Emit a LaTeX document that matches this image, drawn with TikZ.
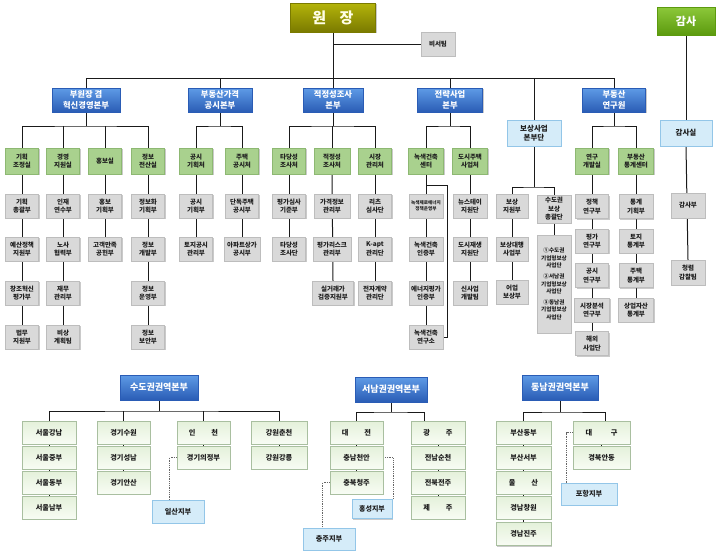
\documentclass[tikz,border=0pt]{standalone}
\usepackage{fontspec}
\setmainfont{Noto Sans CJK KR}
\usetikzlibrary{shadows,backgrounds,calc}
\definecolor{txt}{HTML}{1E1E1E}
\definecolor{olivetop}{HTML}{B4B40A}
\definecolor{olivebot}{HTML}{7A7A00}
\definecolor{gatop}{HTML}{8CC83A}
\definecolor{gabot}{HTML}{5C9A0E}
\definecolor{bltop}{HTML}{5E9BE6}
\definecolor{blbot}{HTML}{2A5CB5}
\definecolor{gfill}{HTML}{A9D18E}
\definecolor{gdraw}{HTML}{8DB872}
\definecolor{greyf}{HTML}{D9D9D9}
\definecolor{greyd}{HTML}{BDBDBD}
\definecolor{lbfill}{HTML}{D5ECF9}
\definecolor{lbdraw}{HTML}{93C6E8}
\definecolor{rgtop}{HTML}{E4F1DA}
\definecolor{rgbot}{HTML}{F8FCF4}
\definecolor{rgdraw}{HTML}{A9BFA0}
\definecolor{lnc}{HTML}{1A1A1A}
\tikzset{
  shad/.style={drop shadow={shadow xshift=1.2pt,shadow yshift=-1.2pt,opacity=0.35,fill=black!60}},
  box/.style={rectangle, align=center, inner sep=0.5pt, text=txt,
    font=\bfseries\fontsize{6.5}{8.5}\selectfont},
  greenbox/.style={box, shad, fill=gfill, draw=gdraw, line width=0.3pt,
    minimum width=33pt, minimum height=26pt},
  greybox/.style={box, shad, fill=greyf, draw=greyd, line width=0.3pt,
    minimum width=33pt, minimum height=24pt},
  bluebox/.style={box, shad, top color=bltop, bottom color=blbot, draw=blbot, line width=0.3pt,
    text=white, font=\bfseries\fontsize{8.3}{10.5}\selectfont, minimum height=24pt},
  lbbox/.style={box, shad, fill=lbfill, draw=lbdraw, line width=0.6pt,
    font=\bfseries\fontsize{7.5}{9.5}\selectfont, minimum height=26pt},
  rgbox/.style={box, shad, top color=rgtop, bottom color=rgbot, draw=rgdraw, line width=0.3pt,
    font=\bfseries\fontsize{7.2}{9}\selectfont, minimum height=23pt},
  rhead/.style={bluebox, font=\bfseries\fontsize{9}{11}\selectfont, minimum height=25pt},
  conn/.style={draw=lnc, line width=1pt},
  dotc/.style={draw=black!60, line width=0.8pt, densely dotted},
}
\begin{document}
\begin{tikzpicture}[x=1pt,y=-1pt]
\useasboundingbox (0,0) rectangle (720,552);

% ---------- top ----------
\node[box, shad, top color=olivetop, bottom color=olivebot, draw=olivebot, text=white!90!yellow,
  font=\bfseries\fontsize{15}{15}\selectfont, minimum width=85pt, minimum height=29pt] (won) at (333,17.5) {원\hspace{0.9em}장};
\node[box, shad, top color=gatop, bottom color=gabot, draw=gabot, text=white,
  font=\bfseries\fontsize{11}{11}\selectfont, minimum width=58pt, minimum height=28pt] (gamsa) at (686,21) {감사};
\node[greybox, minimum width=34pt, minimum height=24pt] (biseo) at (438,44) {비서팀};

% ---------- level 1 ----------
\node[bluebox, minimum width=68pt] (b1) at (86,100) {부원장 겸\\혁신경영본부};
\node[bluebox, minimum width=64pt] (b2) at (220,100) {부동산가격\\공시본부};
\node[bluebox, minimum width=60pt] (b3) at (333,100) {적정성조사\\본부};
\node[bluebox, minimum width=65pt] (b4) at (450,100) {전략사업\\본부};
\node[bluebox, minimum width=63pt] (b5) at (614,100) {부동산\\연구원};
\node[lbbox, minimum width=54pt] (bosang) at (534,133) {보상사업\\본부단};
\node[lbbox, minimum width=52pt] (gamsasil) at (686,133) {감사실};

% ---------- level 2 ----------
\node[greenbox] (g1) at (22,161) {기획\\조정실};
\node[greenbox] (g2) at (63,161) {경영\\지원실};
\node[greenbox] (g3) at (105,161) {홍보실};
\node[greenbox] (g4) at (148,161) {정보\\전산실};
\node[greenbox] (g5) at (196,161) {공시\\기획처};
\node[greenbox] (g6) at (242,161) {주택\\공시처};
\node[greenbox] (g7) at (289,161) {타당성\\조사처};
\node[greenbox, minimum width=36pt] (g8) at (332,161) {적정성\\조사처};
\node[greenbox] (g9) at (375,161) {시장\\관리처};
\node[greenbox, minimum width=35pt] (g10) at (426,161) {녹색건축\\센터};
\node[greenbox, minimum width=35pt] (g11) at (470,161) {도시주택\\사업처};
\node[greenbox] (g12) at (592,161) {연구\\개발실};
\node[greenbox, minimum width=35pt] (g13) at (636,161) {부동산\\통계센터};

% ---------- level 3 ----------
\node[greybox] (c1a) at (22,206) {기획\\총괄부};
\node[greybox] (c1b) at (22,249) {예산정책\\지원부};
\node[greybox] (c1c) at (22,293) {창조혁신\\평가부};
\node[greybox] (c1d) at (22,337) {법무\\지원부};
\node[greybox] (c2a) at (63,206) {인재\\연수부};
\node[greybox] (c2b) at (63,249) {노사\\협력부};
\node[greybox] (c2c) at (63,293) {재무\\관리부};
\node[greybox] (c2d) at (63,337) {비상\\계획팀};
\node[greybox] (c3a) at (105,206) {홍보\\기획부};
\node[greybox] (c3b) at (105,249) {고객만족\\공헌부};
\node[greybox] (c4a) at (148,206) {정보화\\기획부};
\node[greybox] (c4b) at (148,249) {정보\\개발부};
\node[greybox] (c4c) at (148,293) {정보\\운영부};
\node[greybox] (c4d) at (148,337) {정보\\보안부};
\node[greybox] (c5a) at (196,206) {공시\\기획부};
\node[greybox] (c5b) at (196,249) {토지공시\\관리부};
\node[greybox] (c6a) at (242,206) {단독주택\\공시부};
\node[greybox, minimum width=36pt] (c6b) at (242,249) {아파트상가\\공시부};
\node[greybox] (c7a) at (289,206) {평가심사\\기준부};
\node[greybox] (c7b) at (289,249) {타당성\\조사단};
\node[greybox, minimum width=36pt] (c8a) at (332,206) {가격정보\\관리부};
\node[greybox, minimum width=38pt] (c8b) at (332,249) {평가리스크\\관리부};
\node[greybox, minimum width=41pt] (c8c) at (333,293) {실거래가\\검증지원부};
\node[greybox] (c9a) at (375,206) {리츠\\심사단};
\node[greybox] (c9b) at (375,249) {K-apt\\관리단};
\node[greybox] (c9c) at (375,293) {전자계약\\관리단};
\node[greybox, minimum width=34pt, font=\bfseries\fontsize{4.6}{6.5}\selectfont] (c10a) at (426,206) {녹색제로에너지\\정책운영부};
\node[greybox, minimum width=34pt] (c10b) at (426,249) {녹색건축\\인증부};
\node[greybox, minimum width=34pt] (c10c) at (426,293) {에너지평가\\인증부};
\node[greybox, minimum width=34pt] (c10d) at (426,337) {녹색건축\\연구소};
\node[greybox, minimum width=34pt] (c11a) at (470,206) {뉴스테이\\지원단};
\node[greybox, minimum width=34pt] (c11b) at (470,249) {도시재생\\지원단};
\node[greybox, minimum width=34pt] (c11c) at (470,293) {신사업\\개발팀};
\node[greybox, minimum width=32pt] (c12a) at (512,206) {보상\\지원부};
\node[greybox, minimum width=32pt] (c12b) at (512,249) {보상대행\\사업부};
\node[greybox, minimum width=32pt] (c12c) at (512,292) {어업\\보상부};
\node[greybox, minimum width=34pt, minimum height=28pt] (c13a) at (554,209) {수도권\\보상\\총괄단};
\node[greybox, minimum width=34pt, minimum height=98pt, font=\bfseries\fontsize{5.6}{7.6}\selectfont] (c13b) at (554,284)
  {①수도권\\기업형보상\\사업단\\[3pt]②서남권\\기업형보상\\사업단\\[3pt]③동남권\\기업형보상\\사업단};
\node[greybox] (c14a) at (592,206.5) {정책\\연구부};
\node[greybox] (c14b) at (592,241) {평가\\연구부};
\node[greybox] (c14c) at (592,275.5) {공시\\연구부};
\node[greybox, minimum width=35pt] (c14d) at (592,310) {시장분석\\연구부};
\node[greybox] (c14e) at (592,343.5) {해외\\사업단};
\node[greybox, minimum width=34pt] (c15a) at (636,206.5) {통계\\기획부};
\node[greybox, minimum width=34pt] (c15b) at (636,241) {토지\\통계부};
\node[greybox, minimum width=34pt] (c15c) at (636,275.5) {주택\\통계부};
\node[greybox, minimum width=35pt] (c15d) at (636,310) {상업자산\\통계부};
\node[greybox, minimum width=34pt, minimum height=25pt] (c16a) at (688,205.5) {감사부};
\node[greybox, minimum width=34pt, minimum height=25pt] (c16b) at (688,272.5) {청렴\\감찰팀};

% ---------- regional ----------
\node[rhead, minimum width=78pt] (h1) at (159,387.5) {수도권권역본부};
\node[rhead, minimum width=72pt] (h2) at (391,389.5) {서남권권역본부};
\node[rhead, minimum width=76pt] (h3) at (560,387.5) {동남권권역본부};

\node[rgbox, minimum width=54pt] (sa1) at (49,432.5) {서울강남};
\node[rgbox, minimum width=54pt] (sa2) at (49,457.5) {서울중부};
\node[rgbox, minimum width=54pt] (sa3) at (49,482.5) {서울동부};
\node[rgbox, minimum width=54pt] (sa4) at (49,507.5) {서울남부};
\node[rgbox, minimum width=53pt] (sb1) at (123.5,432.5) {경기수원};
\node[rgbox, minimum width=53pt] (sb2) at (123.5,457.5) {경기성남};
\node[rgbox, minimum width=53pt] (sb3) at (123.5,482.5) {경기안산};
\node[rgbox, minimum width=53pt] (sc1) at (203.5,432.5) {인\hspace{2.2em}천};
\node[rgbox, minimum width=53pt] (sc2) at (203.5,457.5) {경기의정부};
\node[rgbox, minimum width=56pt] (sd1) at (279,432.5) {강원춘천};
\node[rgbox, minimum width=56pt] (sd2) at (279,457.5) {강원강릉};
\node[lbbox, minimum width=52pt, minimum height=23pt, line width=0.4pt, font=\bfseries\fontsize{7.2}{9}\selectfont] (ilsan) at (178,511.5) {일산지부};

\node[rgbox, minimum width=53pt] (se1) at (356.5,432.5) {대\hspace{2.2em}전};
\node[rgbox, minimum width=53pt] (se2) at (356.5,457.5) {충남천안};
\node[rgbox, minimum width=53pt] (se3) at (356.5,482.5) {충북청주};
\node[rgbox, minimum width=54pt] (sf1) at (438,432.5) {광\hspace{2.2em}주};
\node[rgbox, minimum width=54pt] (sf2) at (438,457.5) {전남순천};
\node[rgbox, minimum width=54pt] (sf3) at (438,482.5) {전북전주};
\node[rgbox, minimum width=54pt] (sf4) at (438,507.5) {제\hspace{2.2em}주};
\node[lbbox, minimum width=40pt, minimum height=19pt, line width=0.4pt, font=\bfseries\fontsize{7}{9}\selectfont] (hongseong) at (372,509) {홍성지부};
\node[lbbox, minimum width=52pt, minimum height=22pt, line width=0.4pt, font=\bfseries\fontsize{7.2}{9}\selectfont] (chungju) at (329,539) {충주지부};

\node[rgbox, minimum width=55pt] (sg1) at (523.5,432.5) {부산동부};
\node[rgbox, minimum width=55pt] (sg2) at (523.5,457.5) {부산서부};
\node[rgbox, minimum width=55pt] (sg3) at (523.5,482.5) {울\hspace{2.2em}산};
\node[rgbox, minimum width=55pt] (sg4) at (523.5,507.5) {경남창원};
\node[rgbox, minimum width=55pt] (sg5) at (523.5,534) {경남진주};
\node[rgbox, minimum width=57pt] (sh1) at (601.5,432.5) {대\hspace{2.6em}구};
\node[rgbox, minimum width=57pt] (sh2) at (601.5,457.5) {경북안동};
\node[lbbox, minimum width=56pt, minimum height=22pt, line width=0.4pt, font=\bfseries\fontsize{7.2}{9}\selectfont] (pohang) at (589,494) {포항지부};

% ---------- connectors ----------
\begin{pgfonlayer}{background}
\coordinate (busL) at (86,78);
\coordinate (busR) at (614,78);
\draw[conn] (busL) -- (busR);
\draw[conn] (won.south) -- (b3.north);
\draw[conn] (won.south |- biseo.west) -- (biseo.west);
\draw[conn] (b1.north) -- (b1.north |- busL);
\draw[conn] (b2.north) -- (b2.north |- busL);
\draw[conn] (b4.north) -- (b4.north |- busL);
\draw[conn] (b5.north) -- (b5.north |- busL);
\draw[conn] (bosang.north) -- (bosang.north |- busL);
\draw[conn] (gamsa.south) -- (gamsasil.north);
\draw[conn] (gamsasil.south) -- (c16b.north);

% sub buses
\coordinate (s1) at (86,126);
\draw[conn] (b1.south) -- (s1);
\draw[conn] (g1.north) |- (s1) -| (g4.north);
\draw[conn] (g2.north) -- (g2.north |- s1);
\draw[conn] (g3.north) -- (g3.north |- s1);
\coordinate (s2) at (220,126);
\draw[conn] (b2.south) -- (s2);
\draw[conn] (g5.north) |- (s2) -| (g6.north);
\coordinate (s3) at (333,126);
\draw[conn] (b3.south) -- (s3);
\draw[conn] (g7.north) |- (s3) -| (g9.north);
\draw[conn] (g8.north) -- (g8.north |- s3);
\coordinate (s4) at (450,126);
\draw[conn] (b4.south) -- (s4);
\draw[conn] (g10.north) |- (s4) -| (g11.north);
\coordinate (s5) at (614,126);
\draw[conn] (b5.south) -- (s5);
\draw[conn] (g12.north) |- (s5) -| (g13.north);
\coordinate (s6) at (534,187);
\draw[conn] (bosang.south) -- (s6);
\draw[conn] (c12a.north) |- (s6) -| (c13a.north);

% columns
\draw[conn] (g1.south) -- (c1d.north);
\draw[conn] (g2.south) -- (c2d.north);
\draw[conn] (g3.south) -- (c3b.north);
\draw[conn] (g4.south) -- (c4d.north);
\draw[conn] (g5.south) -- (c5b.north);
\draw[conn] (g6.south) -- (c6b.north);
\draw[conn] (g7.south) -- (c7b.north);
\draw[conn] (g8.south) -- (c8c.north);
\draw[conn] (g9.south) -- (c9c.north);
\draw[conn] (g10.south) -- (c10d.north);
\draw[conn] (g11.south) -- (c11c.north);
\draw[conn] (c12a.south) -- (c12c.north);
\draw[conn] (c13a.south) -- (c13b.north);
\draw[conn] (g12.south) -- (c14e.north);
\draw[conn] (g13.south) -- (c15d.north);
\coordinate (gb) at (426,185);
\draw[conn] (gb) -- ++(21,0) coordinate (gb2) -- (gb2 |- c10d.east) -- (c10d.east);

% regional buses
\coordinate (r1) at (159,411);
\draw[conn] (h1.south) -- (r1);
\draw[conn] (sa1.north) |- (r1) -| (sd1.north);
\draw[conn] (sb1.north) -- (sb1.north |- r1);
\draw[conn] (sc1.north) -- (sc1.north |- r1);
\draw[conn] (sa1.south) -- (sa4.north);
\draw[conn] (sb1.south) -- (sb3.north);
\draw[conn] (sc1.south) -- (sc2.north);
\draw[conn] (sd1.south) -- (sd2.north);

\coordinate (r2) at (391,412);
\draw[conn] (h2.south) -- (r2);
\draw[conn] (se1.north) |- (r2) -| ($(sf1.north)+(-14,0)$);
\draw[conn] (se1.south) -- (se3.north);
\draw[conn] (sf1.south) -- (sf4.north);

\coordinate (r3) at (560,412);
\draw[conn] (h3.south) -- (r3);
\draw[conn] (sg1.north) |- (r3) -| ($(sh1.north)+(3.5,0)$);
\draw[conn] (sg1.south) -- (sg5.north);
\draw[conn] (sh1.south) -- (sh2.north);

% dotted branch links
\draw[dotc] (sc2.west) -- ++(-7,0) coordinate (d1) -- (d1 |- ilsan.north);
\draw[dotc] (se2.east) -- ++(10,0) coordinate (d2) -- (d2 |- hongseong.north);
\draw[dotc] (se3.west) -- ++(-7,0) coordinate (d3) -- (d3 |- chungju.north);
\draw[dotc] (sh1.west) -- ++(-6,0) coordinate (d4) -- (d4 |- pohang.north);
\end{pgfonlayer}
\end{tikzpicture}
\end{document}
